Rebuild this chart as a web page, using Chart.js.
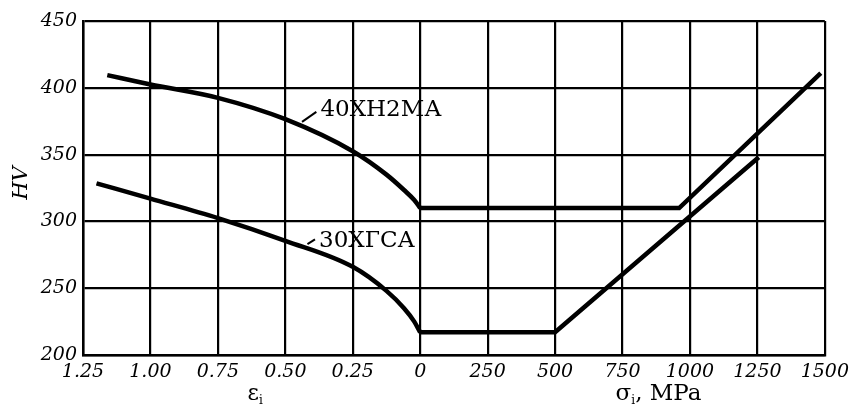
<!DOCTYPE html>
<html>
<head>
<meta charset="utf-8">
<script src="https://cdn.jsdelivr.net/npm/chart.js@4.4.1/dist/chart.umd.min.js"></script>
<style>
  html, body { margin: 0; padding: 0; background: #fff; }
  #wrap { width: 855px; height: 405px; }
</style>
</head>
<body>
<div id="wrap"><canvas id="hvChart"></canvas></div>
<script>
// ── Data ──────────────────────────────────────────────────────
const tickLabels = ['1.25', '1.00', '0.75', '0.50', '0.25', '0', '250', '500', '750', '1000', '1250', '1500'];

// 40ХН2МА
const upperStrain   = [1.16, 1.00, 0.75, 0.50, 0.25, 0.125, 0.06, 0.022, 0];
const upperStrainHV = [409.5, 402.5, 392.5, 376.5, 352.5, 335, 323.5, 316, 310];
const upperStress   = [0, 960, 1485];
const upperStressHV = [310, 310, 411];

// 30ХГСА
const lowerStrain   = [1.20, 1.00, 0.75, 0.50, 0.25, 0.125, 0.06, 0.022, 0];
const lowerStrainHV = [328.5, 317, 302.5, 285.5, 266, 248, 235, 225, 217];
const lowerStress   = [0, 500, 1255];
const lowerStressHV = [217, 217, 348];

// left half of the axis is strain (1.25 → 0), right half is stress (0 → 1500 MPa)
const strainPos = e => (1.25 - e) / 0.25;
const stressPos = s => 5 + s / 250;
const pts = (xs, ys, f) => xs.map((v, i) => ({ x: f(v), y: ys[i] }));

const INK = '#000';
const curve = (data, smooth) => ({
  data,
  borderColor: INK,
  borderWidth: 4.5,
  pointRadius: 0,
  fill: false,
  tension: 0,
  cubicInterpolationMode: smooth ? 'monotone' : 'default',
  borderJoinStyle: 'miter',
});

// ── Labels, leaders and axis titles ───────────────────────────
const notes = {
  id: 'notes',
  afterDatasetsDraw(chart) {
    const { ctx, scales: { x, y } } = chart;
    ctx.save();
    ctx.fillStyle = INK;
    ctx.strokeStyle = INK;
    ctx.lineWidth = 2;

    // grade labels with short leader lines
    const grades = [
      { text: '40ХН2МА', at: [0.37, 383], from: [0.438, 374.5], to: [0.385, 382] },
      { text: '30ХГСА',  at: [0.375, 285.5], from: [0.418, 283], to: [0.39, 286.5] },
    ];
    ctx.font = '23px "DejaVu Serif"';
    ctx.textAlign = 'left';
    ctx.textBaseline = 'middle';
    grades.forEach(g => {
      ctx.beginPath();
      ctx.moveTo(x.getPixelForValue(strainPos(g.from[0])), y.getPixelForValue(g.from[1]));
      ctx.lineTo(x.getPixelForValue(strainPos(g.to[0])), y.getPixelForValue(g.to[1]));
      ctx.stroke();
      ctx.fillText(g.text, x.getPixelForValue(strainPos(g.at[0])), y.getPixelForValue(g.at[1]));
    });

    // x titles: ε_i under strain half, σ_i, MPa under stress half
    const ty = chart.chartArea.bottom + 45;
    ctx.font = '22px "DejaVu Serif"';
    ctx.textAlign = 'left';
    ctx.textBaseline = 'alphabetic';
    let ex = x.getPixelForValue(strainPos(0.625)) - 4;
    ctx.fillText('ε', ex, ty);
    let w = ctx.measureText('ε').width;
    ctx.font = '12px "DejaVu Serif"';
    ctx.fillText('i', ex + w, ty + 4);

    ctx.font = '23px "DejaVu Serif"';
    let sx = x.getPixelForValue(stressPos(850)) - 34;
    ctx.fillText('σ', sx, ty);
    w = ctx.measureText('σ').width;
    ctx.font = '12px "DejaVu Serif"';
    ctx.fillText('i', sx + w, ty + 4);
    ctx.font = '23px "DejaVu Serif"';
    ctx.fillText(', MPa', sx + w + 4, ty);

    // y title
    ctx.translate(22, 183);
    ctx.rotate(-Math.PI / 2);
    ctx.textAlign = 'center';
    ctx.textBaseline = 'middle';
    ctx.font = 'italic 21px "DejaVu Serif"';
    ctx.fillText('HV', 0, 0);
    ctx.restore();
  }
};

const tickFont = { family: '"DejaVu Serif"', style: 'italic', size: 19 };

new Chart(document.getElementById('hvChart'), {
  type: 'line',
  data: {
    datasets: [
      curve(pts(upperStrain, upperStrainHV, strainPos), true),
      curve(pts(upperStress, upperStressHV, stressPos), false),
      curve(pts(lowerStrain, lowerStrainHV, strainPos), true),
      curve(pts(lowerStress, lowerStressHV, stressPos), false),
    ]
  },
  options: {
    responsive: true,
    maintainAspectRatio: false,
    animation: false,
    layout: { padding: { top: 21, right: 28, left: 0, bottom: 0 } },
    plugins: {
      legend: { display: false },
      tooltip: { enabled: false },
    },
    scales: {
      x: {
        type: 'linear',
        min: 0,
        max: 11,
        afterFit: s => { s.height = 50; },
        afterBuildTicks: s => { s.ticks = tickLabels.map((_, i) => ({ value: i })); },
        grid: { color: INK, lineWidth: 2.2, drawTicks: false },
        border: { color: INK, width: 2.5 },
        ticks: {
          color: INK,
          padding: 6,
          maxRotation: 0,
          autoSkip: false,
          font: tickFont,
          callback: v => tickLabels[v] ?? '',
        }
      },
      y: {
        min: 200,
        max: 450,
        afterFit: s => { s.width = 83; },
        grid: { color: INK, lineWidth: 2.2, drawTicks: false },
        border: { color: INK, width: 2.5 },
        ticks: {
          stepSize: 50,
          color: INK,
          padding: 6,
          font: tickFont,
        }
      }
    }
  },
  plugins: [notes]
});
</script>
</body>
</html>
